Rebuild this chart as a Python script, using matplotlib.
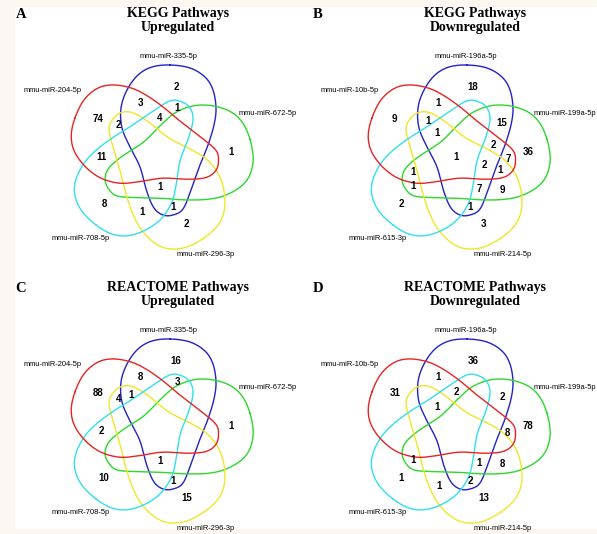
import numpy as np
import matplotlib
matplotlib.use("Agg")
import matplotlib.pyplot as plt
from matplotlib.patches import Rectangle

# set order in every panel: top, right, lower right, lower left, left
UP_SETS = ["mmu-miR-335-5p", "mmu-miR-672-5p", "mmu-miR-296-3p", "mmu-miR-708-5p", "mmu-miR-204-5p"]
DOWN_SETS = ["mmu-miR-196a-5p", "mmu-miR-199a-5p", "mmu-miR-214-5p", "mmu-miR-615-3p", "mmu-miR-10b-5p"]

# region codes = indices of the sets that share it
KEGG_UP_REGIONS = ["0", "04", "4", "03", "034", "24", "1", "34", "0123", "3", "23", "02", "2"]
KEGG_UP_COUNTS = [2, 3, 74, 1, 4, 2, 1, 11, 1, 8, 1, 1, 2]

KEGG_DOWN_REGIONS = ["0", "04", "4", "024", "01", "0234", "014", "1", "14", "01234",
                     "0124", "124", "134", "13", "012", "12", "3", "02", "2"]
KEGG_DOWN_COUNTS = [18, 1, 9, 1, 15, 1, 2, 36, 7, 1, 2, 1, 1, 1, 7, 9, 2, 1, 3]

REACT_UP_REGIONS = ["0", "04", "03", "4", "024", "24", "1", "34", "0123", "3", "02", "2"]
REACT_UP_COUNTS = [16, 8, 3, 88, 1, 4, 1, 2, 1, 10, 1, 15]

REACT_DOWN_REGIONS = ["0", "04", "4", "034", "01", "0234", "1", "14", "13", "012",
                      "12", "3", "23", "02", "2"]
REACT_DOWN_COUNTS = [36, 1, 31, 2, 2, 1, 78, 8, 1, 1, 8, 1, 1, 2, 13]

# template geometry (pixels, y down, relative to the panel centre)
SHAPE_PTS = [(11, -92), (31, -89), (46, -80), (54, -67), (57, -49), (55, -32), (49, -12),
             (41, 8), (32, 33), (24, 52), (14, 58), (4, 58), (-5, 51), (-12, 35), (-19, 10),
             (-29, -10), (-37, -29), (-38, -49), (-32, -67), (-21, -82), (-7, -90)]
REP_ANCHORS = {(0,): (17, -70), (0, 1): (46, -34), (0, 2): (14, 50), (0, 1, 2): (23, 32),
               (0, 1, 3): (26, -38), (0, 1, 2, 3): (1, 30), (0, 1, 2, 3, 4): (0, 0)}
SET_LABEL_OFF = [(10, -100), (109, -43.5), (46.5, 98), (-78.5, 82), (-106.5, -66)]
COLORS = ["#2222c8", "#2cd82c", "#f2e626", "#30e0ec", "#e62424"]


def closed_spline(pts, n=30):
    P = np.asarray(pts, float)
    m = len(P)
    t = np.linspace(0, 1, n, endpoint=False)[:, None]
    out = []
    for i in range(m):
        p0, p1, p2, p3 = P[(i - 1) % m], P[i], P[(i + 1) % m], P[(i + 2) % m]
        out.append(0.5 * (2 * p1 + (-p0 + p2) * t + (2 * p0 - 5 * p1 + 4 * p2 - p3) * t ** 2
                          + (-p0 + 3 * p1 - 3 * p2 + p3) * t ** 3))
    out.append(out[0][:1])
    return np.vstack(out)


def rot(xy, k):
    a = np.deg2rad(72 * k)
    R = np.array([[np.cos(a), -np.sin(a)], [np.sin(a), np.cos(a)]])
    return np.asarray(xy, float) @ R.T


def anchor(code):
    s = [int(ch) for ch in code]
    for k in range(5):
        key = tuple(sorted((i - k) % 5 for i in s))
        if key in REP_ANCHORS:
            return rot(REP_ANCHORS[key], k)
    raise ValueError(code)


def venn(ax, cx, cy, letter, title, sets, regions, counts):
    base = closed_spline(SHAPE_PTS)
    for k in range(5):
        s = rot(base, k)
        ax.plot(cx + s[:, 0], cy + s[:, 1], color=COLORS[k], lw=1.0, solid_capstyle="round")
    for name, (dx, dy) in zip(sets, SET_LABEL_OFF):
        ax.text(cx + dx, cy + dy, name, ha="center", va="center", fontsize=5.4,
                family="Liberation Sans")
    for code, n in zip(regions, counts):
        dx, dy = anchor(code)
        ax.text(cx + dx, cy + dy, str(n), ha="center", va="center", fontsize=7,
                fontweight="bold", family="Liberation Sans")
    ax.text(cx - 138, cy - 142, letter, ha="center", va="center", fontsize=10.5,
            fontweight="bold", family="Liberation Serif")
    for line, dy in zip(title.split("\n"), (-144, -129)):
        ax.text(cx + 19, cy + dy, line, ha="center", va="center", fontsize=10,
                fontweight="bold", family="Liberation Serif")


fig = plt.figure(figsize=(5.97, 5.34), dpi=100, facecolor="#fcf7f0")
ax = fig.add_axes([0, 0, 1, 1])
ax.set_xlim(0, 597)
ax.set_ylim(534, 0)
ax.axis("off")
ax.add_patch(Rectangle((15, 7), 590, 522, facecolor="white", edgecolor="none", zorder=0))

venn(ax, 159, 157, "A", "KEGG Pathways\nUpregulated", UP_SETS, KEGG_UP_REGIONS, KEGG_UP_COUNTS)
venn(ax, 456, 157, "B", "KEGG Pathways\nDownregulated", DOWN_SETS, KEGG_DOWN_REGIONS, KEGG_DOWN_COUNTS)
venn(ax, 159, 431, "C", "REACTOME Pathways\nUpregulated", UP_SETS, REACT_UP_REGIONS, REACT_UP_COUNTS)
venn(ax, 456, 431, "D", "REACTOME Pathways\nDownregulated", DOWN_SETS, REACT_DOWN_REGIONS, REACT_DOWN_COUNTS)

fig.savefig("out.png", dpi=100, facecolor=fig.get_facecolor())
